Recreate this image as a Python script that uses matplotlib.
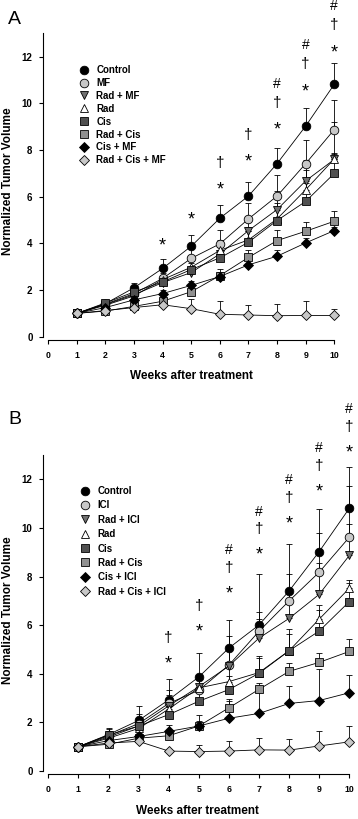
import matplotlib
matplotlib.use("Agg")
import matplotlib.pyplot as plt
from matplotlib.lines import Line2D
import numpy as np

plt.rcParams['font.family'] = ['Liberation Sans', 'DejaVu Sans']

weeks = [1, 2, 3, 4, 5, 6, 7, 8, 9, 10]

# ---------------- Panel A ----------------
labels_a = ["Control", "MF", "Rad + MF", "Rad", "Cis", "Rad + Cis", "Cis + MF", "Rad + Cis + MF"]
a_control = [1.0, 1.42, 2.10, 2.93, 3.88, 5.08, 6.03, 7.42, 9.03, 10.82]
a_mf = [1.0, 1.40, 1.85, 2.50, 3.36, 3.98, 5.05, 6.03, 7.42, 8.88]
a_rad_mf = [1.0, 1.38, 1.80, 2.32, 2.75, 3.55, 4.55, 5.45, 6.68, 7.60]
a_rad = [1.0, 1.35, 1.75, 2.45, 2.98, 3.70, 4.15, 5.05, 6.30, 7.62]
a_cis = [1.0, 1.45, 1.92, 2.35, 2.88, 3.38, 4.05, 4.98, 5.80, 7.00]
a_rad_cis = [1.0, 1.10, 1.30, 1.52, 1.93, 2.62, 3.40, 4.12, 4.52, 4.95]
a_cis_mf = [1.0, 1.25, 1.58, 1.85, 2.20, 2.58, 3.08, 3.45, 4.02, 4.55]
a_rad_cis_mf = [1.0, 1.12, 1.25, 1.37, 1.20, 0.96, 0.93, 0.90, 0.91, 0.91]

a_control_err = [0, 0.08, 0.20, 0.42, 0.50, 0.58, 0.58, 0.65, 0.78, 0.90]
a_mf_err = [0, 0.10, 0.20, 0.35, 0.45, 0.60, 0.70, 0.90, 1.00, 1.27]
a_rad_mf_err = [0, 0.08, 0.15, 0.30, 0.40, 0.50, 0.60, 0.80, 0.90, 1.60]
a_rad_err = [0, 0.08, 0.15, 0.30, 0.35, 0.45, 0.55, 0.70, 0.85, 0.25]
a_cis_err = [0, 0.08, 0.20, 0.30, 0.35, 0.45, 0.50, 0.60, 0.80, 0.85]
a_rad_cis_err = [0, 0.05, 0.10, 0.15, 0.20, 0.30, 0.30, 0.45, 0.40, 0.45]
a_cis_mf_err = [0, 0.05, 0.10, 0.15, 0.20, 0.20, 0.20, 0.25, 0.20, 0.15]
a_rad_cis_mf_err = [0, 0.05, 0.08, 0.10, 0.40, 0.55, 0.42, 0.50, 0.60, 0.28]

# significance marks (panel A): week, symbols bottom->top, y of lowest symbol
a_sig_weeks = [4, 5, 6, 7, 8, 9, 10]
a_sig_marks = ["*", "*", "*†", "*†", "*†#", "*†#", "*†#"]
a_sig_y = [4.23, 5.36, 6.64, 7.83, 9.20, 10.86, 12.53]

# ---------------- Panel B ----------------
labels_b = ["Control", "ICI", "Rad + ICI", "Rad", "Cis", "Rad + Cis", "Cis + ICI", "Rad + Cis + ICI"]
b_control = [1.0, 1.50, 2.08, 2.93, 3.87, 5.06, 6.01, 7.41, 9.03, 10.81]
b_ici = [1.0, 1.45, 1.95, 2.78, 3.32, 4.36, 5.75, 7.00, 8.18, 9.62]
b_rad_ici = [1.0, 1.40, 1.85, 2.68, 3.47, 4.32, 5.47, 6.28, 7.27, 8.87]
b_rad = [1.0, 1.35, 1.75, 2.55, 3.42, 3.68, 4.05, 4.95, 6.25, 7.52]
b_cis = [1.0, 1.48, 1.85, 2.32, 2.87, 3.35, 4.02, 4.95, 5.76, 6.97]
b_rad_cis = [1.0, 1.10, 1.35, 1.45, 1.85, 2.60, 3.36, 4.10, 4.47, 4.92]
b_cis_ici = [1.0, 1.25, 1.42, 1.63, 1.85, 2.17, 2.37, 2.78, 2.90, 3.22]
b_rad_cis_ici = [1.0, 1.15, 1.22, 0.82, 0.80, 0.82, 0.87, 0.86, 1.03, 1.20]

b_control_err = [0, 0.25, 0.60, 0.85, 0.97, 1.17, 2.10, 1.93, 1.77, 1.70]
b_ici_err = [0, 0.20, 0.40, 0.55, 0.60, 1.20, 0.80, 1.10, 1.60, 2.10]
b_rad_ici_err = [0, 0.20, 0.35, 0.45, 0.50, 0.70, 0.80, 1.00, 1.30, 1.30]
b_rad_err = [0, 0.15, 0.30, 0.40, 0.45, 0.55, 0.60, 0.70, 0.60, 0.35]
b_cis_err = [0, 0.25, 0.30, 0.40, 0.50, 0.55, 0.70, 0.90, 0.85, 0.75]
b_rad_cis_err = [0, 0.10, 0.15, 0.15, 0.20, 0.35, 0.25, 0.35, 0.38, 0.50]
b_cis_ici_err = [0, 0.10, 0.15, 0.25, 0.45, 0.70, 1.00, 0.70, 1.30, 0.73]
b_rad_cis_ici_err = [0, 0.05, 0.08, 0.05, 0.25, 0.40, 0.50, 0.45, 0.60, 0.65]

b_sig_weeks = [4, 5, 6, 7, 8, 9, 10]
b_sig_marks = ["*†", "*†", "*†#", "*†#", "*†#", "*†#", "*†#"]
b_sig_y = [4.77, 6.08, 7.65, 9.23, 10.53, 11.84, 13.44]

# styles (marker, facecolor)
styles = [
    ("o", "#000000"),
    ("o", "#c8c8c8"),
    ("v", "#707070"),
    ("^", "#ffffff"),
    ("s", "#505050"),
    ("s", "#909090"),
    ("D", "#000000"),
    ("D", "#c8c8c8"),
]
msizes = [6.2, 6.2, 6.2, 6.2, 5.4, 5.4, 5.0, 5.0]

W, H = 358, 819
fig = plt.figure(figsize=(W / 100, H / 100), dpi=100)


def make_panel(ax_rect, series, errs, labels, sig_weeks, sig_marks, sig_y, sig_step,
               letter, letter_xy, leg_xy, leg_spacing, xlabel_xy, ylabel_xy):
    ax = fig.add_axes(ax_rect)
    for i, (vals, err) in enumerate(zip(series, errs)):
        ax.errorbar(weeks, vals, yerr=[np.zeros(len(err)), err], fmt="none",
                    ecolor="black", elinewidth=0.6, capsize=2.4, capthick=0.6,
                    zorder=2, clip_on=False)
    for i, vals in enumerate(series):
        m, fc = styles[i]
        ax.plot(weeks, vals, color="black", lw=0.6, marker=m, markersize=msizes[i],
                markerfacecolor=fc, markeredgecolor="black", markeredgewidth=0.6,
                zorder=3 + i * 0.01, clip_on=False)
    ax.set_xlim(0, 10)
    ax.set_ylim(0, 13)
    ax.set_xticks(range(0, 11))
    ax.set_yticks(range(0, 13, 2))
    for s in ["top", "right"]:
        ax.spines[s].set_visible(False)
    ax.spines["left"].set_position(("outward", 3.8))
    ax.spines["bottom"].set_position(("outward", 2.4))
    ax.spines["left"].set_linewidth(0.8)
    ax.spines["bottom"].set_linewidth(0.8)
    ax.tick_params(axis="both", direction="out", length=3, width=0.8)
    ax.tick_params(axis="x", labelsize=6.3, pad=5)
    ax.tick_params(axis="y", labelsize=7, pad=4.5)
    for t in ax.get_xticklabels() + ax.get_yticklabels():
        t.set_fontweight("bold")
    ax.patch.set_visible(False)

    # significance marks
    for wk, marks, y0 in zip(sig_weeks, sig_marks, sig_y):
        for j, ch in enumerate(marks):
            yy = y0 + j * sig_step
            if ch == "*":
                ax.text(wk, yy - 0.35, ch, ha="center", va="center", fontsize=13,
                        clip_on=False, color="black")
            else:
                ax.text(wk, yy, ch, ha="center", va="center",
                        fontsize=11 if ch != "#" else 10, clip_on=False, color="black")

    # legend
    handles = [Line2D([], [], ls="none", marker=styles[i][0], markersize=msizes[i] * 1.0,
                      markerfacecolor=styles[i][1], markeredgecolor="black",
                      markeredgewidth=0.6) for i in range(len(series))]
    leg = ax.legend(handles, labels, loc="upper left",
                    bbox_to_anchor=(leg_xy[0] / W, 1 - leg_xy[1] / H),
                    bbox_transform=fig.transFigure, frameon=False, fontsize=7,
                    handlelength=1.0, handletextpad=0.8, labelspacing=leg_spacing,
                    borderpad=0, borderaxespad=0)
    for t in leg.get_texts():
        t.set_fontweight("bold")

    fig.text(letter_xy[0] / W, 1 - letter_xy[1] / H, letter, fontsize=14,
             ha="center", va="center")
    fig.text(xlabel_xy[0] / W, 1 - xlabel_xy[1] / H, "Weeks after treatment",
             fontsize=8.5, fontweight="bold", ha="center", va="center")
    fig.text(ylabel_xy[0] / W, 1 - ylabel_xy[1] / H, "Normalized Tumor Volume",
             fontsize=8.5, fontweight="bold", ha="center", va="center", rotation=90)
    return ax


seriesA = [a_control, a_mf, a_rad_mf, a_rad, a_cis, a_rad_cis, a_cis_mf, a_rad_cis_mf]
errsA = [a_control_err, a_mf_err, a_rad_mf_err, a_rad_err, a_cis_err, a_rad_cis_err,
         a_cis_mf_err, a_rad_cis_mf_err]
seriesB = [b_control, b_ici, b_rad_ici, b_rad, b_cis, b_rad_cis, b_cis_ici, b_rad_cis_ici]
errsB = [b_control_err, b_ici_err, b_rad_ici_err, b_rad_err, b_cis_err, b_rad_cis_err,
         b_cis_ici_err, b_rad_cis_ici_err]

make_panel([48.3 / W, 1 - 336.7 / H, 286 / W, 303.3 / H], seriesA, errsA, labels_a,
           a_sig_weeks, a_sig_marks, a_sig_y, 0.82,
           "A", (14, 20), (79, 65), 0.3, (191, 376), (8, 181))
make_panel([48.3 / W, 1 - 771 / H, 301 / W, 315.9 / H], seriesB, errsB, labels_b,
           b_sig_weeks, b_sig_marks, b_sig_y, 0.72,
           "B", (15, 420), (80, 486), 0.45, (197, 811), (8, 610))

fig.savefig("out.png", dpi=100)
